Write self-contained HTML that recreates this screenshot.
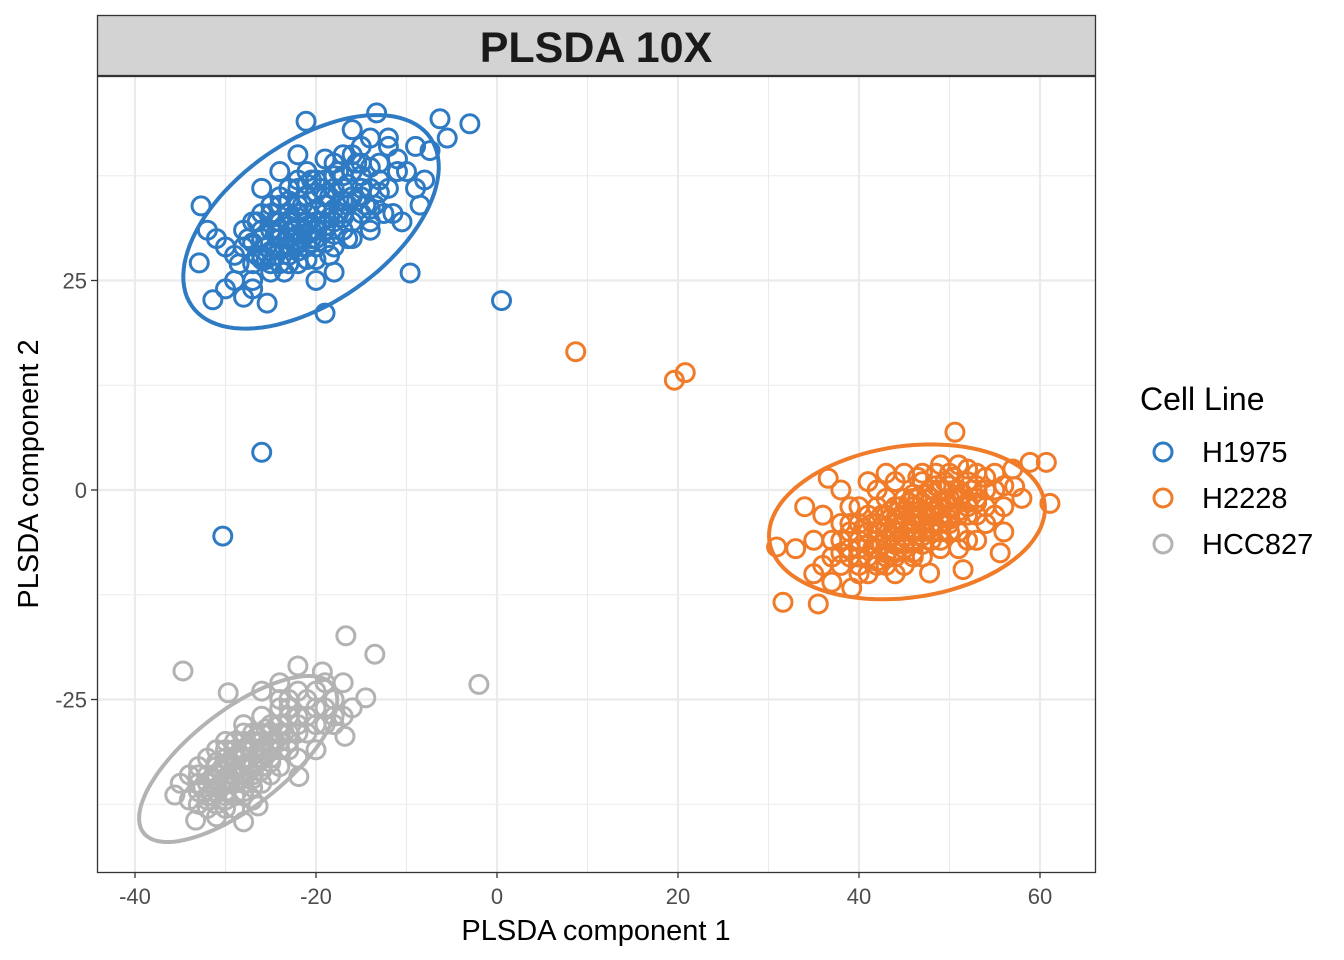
<!DOCTYPE html>
<html><head><meta charset="utf-8"><style>
body{margin:0;background:#fff;font-family:"Liberation Sans",sans-serif}
svg{display:block}
</style></head><body>
<svg id="chart" width="1344" height="960" viewBox="0 0 1344 960">
<rect x="0" y="0" width="1344" height="960" fill="#fff"/>
<g id="grid"></g>
<g id="ellipses"></g>
<g id="points"></g>
<rect x="97.5" y="76.5" width="998" height="796" fill="none" stroke="#333" stroke-width="1.3"/>
<rect x="97.5" y="15.5" width="998" height="60" fill="#D3D3D3" stroke="#333" stroke-width="1.3"/>
<text x="596" y="62" text-anchor="middle" font-size="43" font-weight="bold" fill="#1a1a1a">PLSDA 10X</text>
<g id="axes"></g>
<text x="596" y="940" text-anchor="middle" font-size="29" fill="#000">PLSDA component 1</text>
<text transform="translate(38,474) rotate(-90)" text-anchor="middle" font-size="29" fill="#000">PLSDA component 2</text>
<g>
<text x="1140" y="410" font-size="32" fill="#000">Cell Line</text>
<g><circle cx="1163" cy="452" r="9" fill="none" stroke="#2E7BC4" stroke-width="3"/><text x="1202" y="462" font-size="29">H1975</text></g>
<g><circle cx="1163" cy="498" r="9" fill="none" stroke="#F07B28" stroke-width="3"/><text x="1202" y="508" font-size="29">H2228</text></g>
<g><circle cx="1163" cy="544" r="9" fill="none" stroke="#B3B3B3" stroke-width="3"/><text x="1202" y="554" font-size="29">HCC827</text></g>
</g>
</svg>
<script>
const xTicks=[-40,-20,0,20,40,60];
const xMinor=[-30,-10,10,30,50];
const yTicks=[-25,0,25];
const yMinor=[-37.5,-12.5,12.5,37.5];
const seriesNames=["H1975","H2228","HCC827"];
const h1975=[[-13.3,45],[-21.1,44],[-6.3,44.3],[-3,43.7],[-32.7,33.9],[-32.9,27.1],[-31.4,22.7],[-9.6,25.9],[-19,21.1],[-7.4,40.5],[-25.4,22.3],[-8.5,34],[-10,38],[-12,41],[-14,42],[-16,40],[-18,39],[-20,37],[-22,36],[-24,35],[-26,33],[-28,31],[-30,29],[-29,25],[-27,24],[-25,26],[-23,27],[-21,29],[-19,31],[-17,33],[-15,35],[-13,37],[-11,38],[-9,36],[-10.5,32],[-12.5,33],[-14.5,34],[-16.5,30],[-18.5,28],[-20.5,30],[-22.5,31],[-24.5,32],[-26.5,28],[-28.5,27],[-27.5,30],[-25.5,29],[-23.5,26],[-21.5,34],[-19.5,36],[-17.5,38],[-15.5,39],[-13.5,34],[-11.5,33],[-20,30],[-22,33],[-18,32],[-24,30],[-16,35],[-26,28],[-14,31],[-21,32],[-23,29],[-19,34],[-25,27],[-17,36],[-27,25],[-15,39],[-29,28],[-31,30],[-12,42],[-8,37],[-5.5,42],[-11,39.5],[-24,38],[-22,40],[-26,36],[-30,24],[-28,23],[-20,25],[-18,26],[-16,43],[-9,41],[-32,31],
[-27,27],[-26,27.5],[-25,28.5],[-24,29],[-23,30],[-22,30.5],[-21,31.5],[-20,32],[-19,33],[-18,33.5],[-17,34.5],[-16,35],[-15,36],[-26,30],[-25,31],[-24,32],[-23,33],[-22,34],[-21,35],[-20,35.5],[-19,37],[-18,37.5],[-24,27],[-23,28],[-22,28.5],[-21,27.5],[-20,29],[-19,29.5],[-18,30.5],[-17,31],[-16,32],[-15,33],[-14,33.5],[-23,31.5],[-21,33],[-19,31.5],[-17,32.5],[-20,33.5],[-22,29.5],[-24.5,30.5],[-26.5,32],[-18.5,35],[-16.5,36.5],[-20.5,37],[-14,36],[-13,35.5],[-12,36],[-28,29],[-27,32],[-25,34],[-23,36],[-21,38],[-19,39.5],[-17,40],[-15,41],
[-25.5,27.5],[-24.5,28],[-23.5,29],[-22.5,29.5],[-21.5,30],[-20.5,31],[-19.5,32],[-18.5,32.5],[-17.5,33],[-16.5,34],[-15.5,34.5],[-24,31],[-23,32],[-22,32.5],[-21,30.5],[-20,31],[-19,35],[-18,36],[-17,37.5],[-16,38],[-22,37],[-24,34],[-26,31],[-23,34.5],[-21,36.5],[-25,33],[-27,29.5],[-15,37.5],[-14,38.5],[-13,39],[-18,29],[-16,30],[-14,32],[-20,27.5],[-22,27],
[0.5,22.6],[-26,4.5],[-30.3,-5.5]];
const h2228=[[50.6,6.9],[60.7,3.3],[61.1,-1.6],[31.6,-13.4],[35.5,-13.6],[30.9,-6.8],[55.6,-7.5],[51.5,-9.5],[39.2,-11.7],[47.8,-9.9],[58.9,3.3],[57.2,0.4],[36.6,1.4],[34,-2],[35,-6],[36,-9],[38,-4],[38,0],[40,-2],[40,-7],[41,-10],[42,-4],[42,0],[43,-6],[43,-9],[44,-2],[44,1],[45,-4],[45,-7],[46,-1],[46,-5],[47,-3],[47,1],[48,-2],[48,-6],[49,0],[49,-4],[50,2],[50,-2],[51,-1],[51,-5],[52,1],[52,-3],[53,2],[53,-1],[54,0],[54,-4],[55,2],[56,-2],[56,-5],[57,2.5],[58,-1],[37,-6],[39,-8],[41,-5],[43,-3],[45,-1],[47,-5],[49,-7],[44,-8],[46,-3],[48,-4],[50,-3],[52,-6],[42,-7],[40,-4],[38,-9],[36,-3],[39,-2],[41,1],[43,2],[45,2],[47,2],[49,3],[51,3],[53,-6],[55,-3],[33,-7],[35,-10],[37,-11],[45,-9],[44,-5],[46,-6],[42,-2],[48,0],[50,-5],[40,-9],[46,-8],[52,-2],
[39,-5],[40,-6],[41,-6.5],[41,-3],[42,-5],[43,-4.5],[43,-1],[44,-3.5],[44,-6.5],[45,-2.5],[45,-5.5],[46,-4],[46,-2],[47,-4],[47,-1.5],[47,-6.5],[48,-3],[48,-1],[49,-2],[49,-5],[50,-1],[50,0.5],[51,-3],[51,0],[52,-1.5],[53,0.5],[53,-3],[54,-2],[55,0],[44,-4],[45,-3],[46,-0.5],[48,-5],[49,-3],[50,-4],[42,-6],[41,-8],[39,-7],[38,-6],[37,-8],[40,-10],[42,-9],[44,-10],[46,-7.5],[43,-7.5],[47,-8],[49,-6],[51,-7],[54,1.5],[52,2.5],[56,0.5],
[40.5,-4.5],[41.5,-4],[42.5,-3],[43.5,-2.5],[44.5,-2],[45.5,-1.5],[46.5,-1],[47.5,-0.5],[48.5,0.5],[49.5,1],[41.5,-7],[42.5,-6.5],[43.5,-5.5],[44.5,-5],[45.5,-4.5],[46.5,-3.5],[47.5,-3],[48.5,-2.5],[49.5,-1.5],[50.5,-1],[51.5,-0.5],[52.5,0],[43,-8],[44,-7.5],[45,-6.5],[46,-6],[47,-5.5],[48,-4.5],[49,-4],[50,-3.5],[51,-2.5],[52,-2],[53,-1.5],[42,-8.5],[40,-8],[39,-4],[38,-7.5],[50.5,1.5],[48.5,2],[46.5,1.5],
[8.7,16.5],[19.6,13.1],[20.8,14]];
const hcc827=[[-34.7,-21.6],[-16.7,-17.4],[-13.5,-19.6],[-2,-23.2],[-22,-21],[-19.3,-21.7],[-14.5,-24.8],[-16.8,-29.4],[-28,-39.6],[-33.3,-39.4],[-29.7,-24.2],[-35.6,-36.4],[-26.4,-37.7],[-21.9,-34.2],[-35,-35],[-34,-37],[-33,-33],[-32,-35],[-32,-38],[-31,-31],[-31,-36],[-30,-33],[-30,-38],[-29,-30],[-29,-35],[-28,-32],[-28,-36],[-27,-29],[-27,-34],[-26,-31],[-26,-35],[-25,-28],[-25,-32],[-24,-26],[-24,-30],[-23,-25],[-23,-29],[-22,-27],[-21,-25],[-21,-29],[-20,-24],[-20,-28],[-19,-26],[-18,-25],[-18,-28],[-17,-27],[-16,-26],[-19,-23],[-22,-24],[-24,-33],[-27,-37],[-30,-36],[-33,-36],[-31,-34],[-29,-32],[-27,-31],[-25,-30],[-23,-31],[-26,-27],[-28,-28],[-30,-30],[-32,-32],[-20,-31],[-22,-32],[-34,-34],[-29,-38],[-31,-39],[-26,-24],[-24,-23],[-17,-23],
[-33,-35],[-32,-34],[-31,-33],[-30,-32],[-29,-31],[-28,-30],[-27,-30],[-26,-29],[-25,-29],[-24,-28],[-23,-27],[-32,-36.5],[-31,-35.5],[-30,-34.5],[-29,-33.5],[-28,-33],[-27,-32.5],[-26,-32],[-25,-31],[-24,-31],[-23,-30],[-30,-37],[-29,-36.5],[-28,-35],[-27,-35.5],[-26,-33.5],[-25,-34],[-31,-37.5],[-33,-37.5],[-28,-34],[-29,-34],[-30,-35],[-27,-33],[-26,-30],[-28,-31],[-22,-29],[-21,-27],[-20,-26],[-19,-28],[-18,-27],[-23,-26],[-24,-25],
[-32.5,-35.5],[-31.5,-34.5],[-30.5,-33.5],[-29.5,-32.5],[-28.5,-31.5],[-27.5,-30.5],[-26.5,-29.5],[-25.5,-28.5],[-31.5,-36.5],[-30.5,-35.5],[-29.5,-35],[-28.5,-34],[-27.5,-33],[-26.5,-32],[-25.5,-31.5],[-24.5,-30],[-23.5,-29],[-32,-37],[-30,-36.5],[-28,-36.5],[-27,-34.5],[-26,-33],[-25,-32.5],[-29,-33],[-30,-31],[-28,-29],[-31,-32.5],[-33,-34],[-24,-29],[-22,-28]];
const ellH1975={c:[-20.55,32.0],a:[13.2,10.0],b:[5.0,-7.9]};
const ellH2228={c:[45.3,-3.8],a:[15.2,2.3],b:[1.17,-8.95]};
const ellHCC827={c:[-28.6,-32.1],a:[10.45,8.82],b:[3.27,-4.51]};

const X0=97,X1=1095,Y0=76,Y1=872;
function sx(v){return 497+v*9.05;}
function sy(v){return 490-v*8.38;}
const NS="http://www.w3.org/2000/svg";
function mk(tag,attrs,parent){const e=document.createElementNS(NS,tag);for(const k in attrs)e.setAttribute(k,attrs[k]);parent.appendChild(e);return e;}
const grid=document.getElementById('grid');
mk('rect',{x:X0,y:Y0,width:X1-X0,height:Y1-Y0,fill:'#fff'},grid);
xMinor.forEach(v=>{const l=mk('line',{x1:sx(v),x2:sx(v),y1:Y0,y2:Y1,stroke:'#EBEBEB','stroke-width':1.1},grid);});
yMinor.forEach(v=>{const l=mk('line',{x1:X0,x2:X1,y1:sy(v),y2:sy(v),stroke:'#EBEBEB','stroke-width':1.1},grid);});
xTicks.forEach(v=>{const l=mk('line',{x1:sx(v),x2:sx(v),y1:Y0,y2:Y1,stroke:'#EBEBEB','stroke-width':2.2},grid);});
yTicks.forEach(v=>{const l=mk('line',{x1:X0,x2:X1,y1:sy(v),y2:sy(v),stroke:'#EBEBEB','stroke-width':2.2},grid);});
const axes=document.getElementById('axes');
xTicks.forEach(v=>{mk('line',{x1:sx(v),x2:sx(v),y1:Y1,y2:Y1+6,stroke:'#333','stroke-width':1.3},axes);const t=mk('text',{x:sx(v),y:Y1+32,'text-anchor':'middle','font-size':22,fill:'#4D4D4D'},axes);t.textContent=v;});
yTicks.forEach(v=>{mk('line',{x1:X0-6,x2:X0,y1:sy(v),y2:sy(v),stroke:'#333','stroke-width':1.3},axes);const t=mk('text',{x:X0-10,y:sy(v)+8,'text-anchor':'end','font-size':22,fill:'#4D4D4D'},axes);t.textContent=v;});
const colors=["#2E7BC4","#F07B28","#B3B3B3"];
const series=[h1975,h2228,hcc827];
const ells=[ellH1975,ellH2228,ellHCC827];
const eg=document.getElementById('ellipses'),pg=document.getElementById('points');
series.forEach((s,i)=>{
  const g=mk('g',{},pg);
  
  
  s.forEach(p=>{const c=mk('circle',{cx:sx(p[0]),cy:sy(p[1]),r:9,fill:'none',stroke:colors[i],'stroke-width':3},g);
    
    });
  const e=ells[i];let d='';
  for(let k=0;k<=100;k++){const t=k/100*2*Math.PI;const x=e.c[0]+e.a[0]*Math.cos(t)+e.b[0]*Math.sin(t);const y=e.c[1]+e.a[1]*Math.cos(t)+e.b[1]*Math.sin(t);d+=(k?'L':'M')+sx(x).toFixed(1)+','+sy(y).toFixed(1);}
  const pe=mk('path',{d:d+'Z',fill:'none',stroke:colors[i],'stroke-width':4},eg);
  
  
});
pg.parentNode.insertBefore(pg,eg);
</script>
</body></html>
